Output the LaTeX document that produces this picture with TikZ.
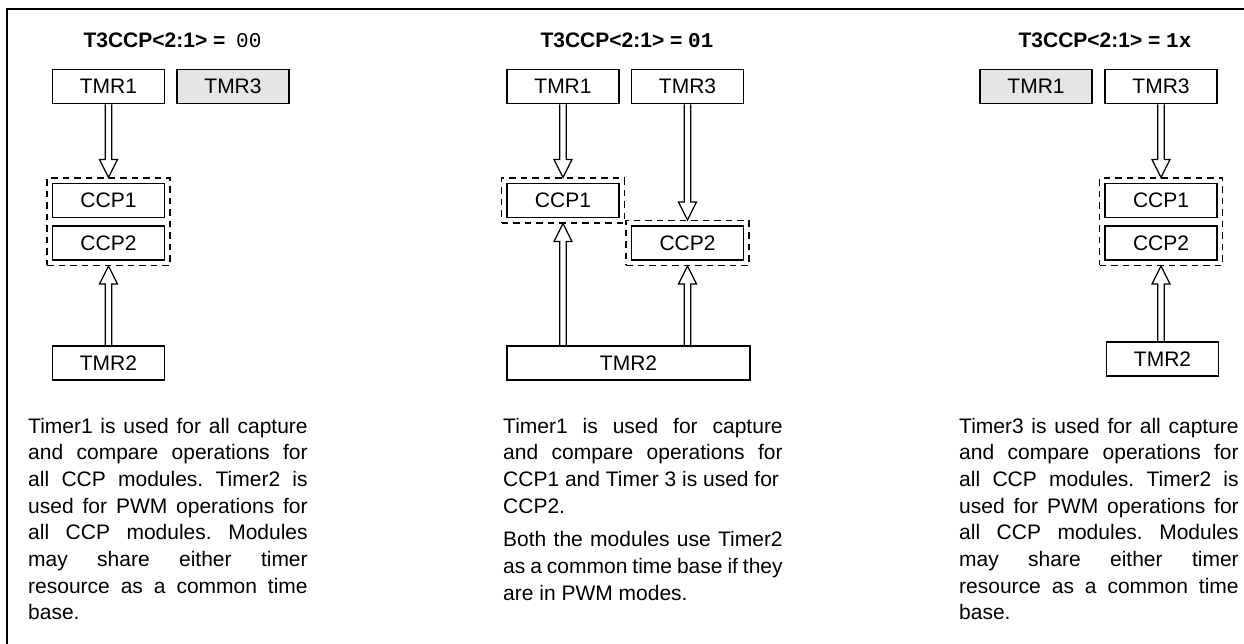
\documentclass[tikz,border=0pt]{standalone}
\usepackage{fontspec}
\setmainfont{Liberation Sans}
\setmonofont{Liberation Mono}
\usetikzlibrary{calc,fit}
\frenchspacing

\tikzset{
  tmr/.style={draw, line width=1.7pt, minimum width=112pt, minimum height=34pt,
    inner sep=0pt, font=\fontsize{21}{24}\selectfont},
  unused/.style={tmr, fill=black!10},
  ccpgroup/.style={draw, dash pattern=on 6.5pt off 5pt, line width=1.4pt, inner sep=4.5pt},
  hollow/.style={draw, line width=1.2pt, to path={
    let \p1=(\tikztostart), \p2=(\tikztotarget), \n1={18*sign(\y1-\y2)} in
    (\x1-3.3pt,\y1) -- (\x1-3.3pt,\y2+\n1) -- (\x1-9pt,\y2+\n1) -- (\x1,\y2)
    -- (\x1+9pt,\y2+\n1) -- (\x1+3.3pt,\y2+\n1) -- (\x1+3.3pt,\y1)}},
  heading/.style={anchor=base, inner sep=0pt, font=\fontsize{21}{24}\selectfont\bfseries},
  note/.style={anchor=base west, inner sep=0pt, text width=279.5pt, align=justify,
    font=\fontsize{21}{26.7}\selectfont}
}

\begin{document}
\begin{tikzpicture}[x=1pt,y=-1pt]
    \useasboundingbox (0,0) rectangle (1244,643);
    \clip (0,0) rectangle (1244,643);
    \draw[line width=2pt] (6.5,700) -- (6.5,8.5) -- (1300,8.5);

    % T3CCP<2:1> = 00
    \node[heading] (heada) at (172.5,47) {T3CCP<2:1> = \hspace{5pt}{\mdseries\ttfamily 00}};
    \node[tmr] (tmronea) at (108.5,86.5) {TMR1};
    \node[unused] (tmrthreea) at (233,86.5) {TMR3};
    \node[tmr] (ccponea) at (108.5,200.5) {CCP1};
    \node[tmr] (ccptwoa) at (108.5,243) {CCP2};
    \node[ccpgroup, fit=(ccponea)(ccptwoa)] (groupa) {};
    \node[tmr] (tmrtwoa) at (108.5,363) {TMR2};
    \draw[hollow] (tmronea.south) to (groupa.north);
    \draw[hollow] (tmrtwoa.north) to (groupa.south);
    \node[note] (notea) at (28,433) {Timer1 is used for all capture\linebreak
      and compare operations for\linebreak all CCP modules. Timer2 is\linebreak
      used for PWM operations for\linebreak all CCP modules. Modules\linebreak
      may share either timer\linebreak resource as a common time\linebreak base.};

    % T3CCP<2:1> = 01
    \node[heading] (headb) at (627,47) {T3CCP<2:1> = {\ttfamily 01}};
    \node[tmr] (tmroneb) at (563,86.5) {TMR1};
    \node[tmr] (tmrthreeb) at (687.5,86.5) {TMR3};
    \node[tmr] (ccponeb) at (563,200.5) {CCP1};
    \node[tmr] (ccptwob) at (687.5,243) {CCP2};
    \node[ccpgroup, fit=(ccponeb)] (groupb) {};
    \node[ccpgroup, fit=(ccptwob)] (groupc) {};
    \node[tmr, minimum width=243pt] (tmrtwob) at (628.5,363) {TMR2};
    \draw[hollow] (tmroneb.south) to (groupb.north);
    \draw[hollow] (tmrthreeb.south) to (groupc.north);
    \draw[hollow] (tmrtwob.north -| ccponeb) to (groupb.south);
    \draw[hollow] (tmrtwob.north -| ccptwob) to (groupc.south);
    \node[note] (noteb) at (503,433) {Timer1 is used for capture\linebreak
      and compare operations for\linebreak CCP1 and Timer 3 is used for\\
      CCP2.\\[7pt]
      Both the modules use Timer2\linebreak as a common time base if they\linebreak
      are in PWM modes.};

    % T3CCP<2:1> = 1x
    \node[heading] (headc) at (1105,47) {T3CCP<2:1> = {\ttfamily 1x}};
    \node[unused] (tmronec) at (1036,86.5) {TMR1};
    \node[tmr] (tmrthreec) at (1161,86.5) {TMR3};
    \node[tmr] (ccponec) at (1161,200.5) {CCP1};
    \node[tmr] (ccptwoc) at (1161,243) {CCP2};
    \node[ccpgroup, fit=(ccponec)(ccptwoc)] (groupd) {};
    \node[tmr] (tmrtwoc) at (1162.5,359) {TMR2};
    \draw[hollow] (tmrthreec.south) to (groupd.north);
    \draw[hollow] (tmrtwoc.north -| tmrthreec) to (groupd.south);
    \node[note] (notec) at (959,433) {Timer3 is used for all capture\linebreak
      and compare operations for\linebreak all CCP modules. Timer2 is\linebreak
      used for PWM operations for\linebreak all CCP modules. Modules\linebreak
      may share either timer\linebreak resource as a common time\linebreak base.};
\end{tikzpicture}
\end{document}
